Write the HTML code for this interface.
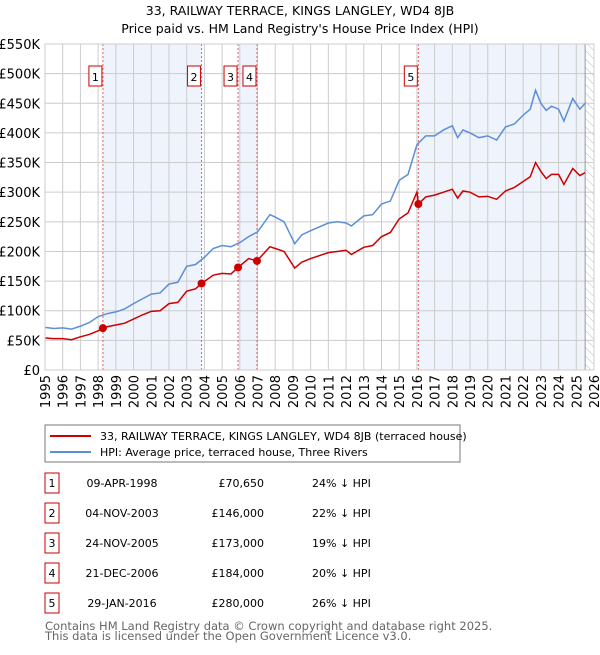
<!DOCTYPE html>
<html><head><meta charset="utf-8"><style>
body{margin:0;background:#fff;font-family:"Liberation Sans","DejaVu Sans",sans-serif;}
svg text{font-family:"DejaVu Sans","Liberation Sans",sans-serif;}
</style></head><body>
<svg id="c" width="600" height="650" xmlns="http://www.w3.org/2000/svg">
<defs><pattern id="hatch" width="6" height="6" patternUnits="userSpaceOnUse" patternTransform="rotate(-45)"><line x1="0" y1="0" x2="0" y2="6" stroke="#bbb" stroke-width="1"/></pattern></defs>
<text x="300" y="15" text-anchor="middle" font-size="12.5">33, RAILWAY TERRACE, KINGS LANGLEY, WD4 8JB</text>
<text x="300" y="33" text-anchor="middle" font-size="12.5">Price paid vs. HM Land Registry's House Price Index (HPI)</text>
<g id="plot"></g>
<rect x="45" y="425" width="415" height="37" fill="#fff" stroke="#777"/>
<line x1="50" y1="436" x2="91" y2="436" stroke="#cc0000" stroke-width="2"/>
<text x="100" y="440" font-size="11">33, RAILWAY TERRACE, KINGS LANGLEY, WD4 8JB (terraced house)</text>
<line x1="50" y1="452" x2="91" y2="452" stroke="#5b8fd6" stroke-width="2"/>
<text x="100" y="456" font-size="11">HPI: Average price, terraced house, Three Rivers</text>
<g id="table"></g>
<text x="45" y="630" font-size="11.5" fill="#666">Contains HM Land Registry data © Crown copyright and database right 2025.</text>
<text x="45" y="640" font-size="11.5" fill="#666">This data is licensed under the Open Government Licence v3.0.</text>
</svg>
<script>
const hpiYears=[1995,1995.5,1996,1996.5,1997,1997.5,1998,1998.5,1999,1999.5,2000,2000.5,2001,2001.5,2002,2002.5,2003,2003.5,2004,2004.5,2005,2005.5,2006,2006.5,2007,2007.7,2008,2008.5,2009.1,2009.5,2010,2011,2011.5,2012,2012.3,2013,2013.5,2014,2014.5,2015,2015.5,2016,2016.5,2017,2017.5,2018,2018.3,2018.6,2019,2019.5,2020,2020.5,2021,2021.5,2022,2022.4,2022.7,2023,2023.3,2023.6,2024,2024.3,2024.8,2025.2,2025.5];
const hpiValues=[72,70,71,69,74,80,90,95,98,103,112,120,128,130,145,148,175,178,190,205,210,208,215,225,233,262,258,250,213,228,235,248,250,248,243,260,262,280,285,320,330,380,395,395,405,412,392,405,400,392,395,388,410,415,430,440,472,450,438,445,440,420,458,440,450];
const ppYears=[1995,1995.5,1996,1996.5,1997,1997.5,1998,1998.27,1998.5,1999,1999.5,2000,2000.5,2001,2001.5,2002,2002.5,2003,2003.5,2003.84,2004.5,2005,2005.5,2005.9,2006.5,2006.97,2007.7,2008,2008.5,2009.1,2009.5,2010,2011,2011.5,2012,2012.3,2013,2013.5,2014,2014.5,2015,2015.5,2016,2016.08,2016.5,2017,2017.5,2018,2018.3,2018.6,2019,2019.5,2020,2020.5,2021,2021.5,2022,2022.4,2022.7,2023,2023.3,2023.6,2024,2024.3,2024.8,2025.2,2025.5];
const ppValues=[54,53,53,51,56,60,66,70.65,73,76,79,86,93,99,100,112,114,133,137,146,160,163,162,173,188,184,208,205,200,172,182,188,198,200,202,195,207,210,225,232,255,265,300,280,292,295,300,305,290,302,300,292,293,288,302,308,318,326,350,335,323,330,330,313,340,328,333];
const saleLabels=["1","2","3","4","5"];
const saleYears=[1998.27,2003.84,2005.9,2006.97,2016.08];
const saleValues=[70.65,146,173,184,280];
const saleDates=["09-APR-1998","04-NOV-2003","24-NOV-2005","21-DEC-2006","29-JAN-2016"];
const salePrices=["£70,650","£146,000","£173,000","£184,000","£280,000"];
const salePcts=["24% ↓ HPI","22% ↓ HPI","19% ↓ HPI","20% ↓ HPI","26% ↓ HPI"];
const yTicks=[0,50,100,150,200,250,300,350,400,450,500,550];
const yTickLabels=["£0","£50K","£100K","£150K","£200K","£250K","£300K","£350K","£400K","£450K","£500K","£550K"];
const xTicks=[1995,1996,1997,1998,1999,2000,2001,2002,2003,2004,2005,2006,2007,2008,2009,2010,2011,2012,2013,2014,2015,2016,2017,2018,2019,2020,2021,2022,2023,2024,2025,2026];

const L=45,R=594,T=44,B=370,X0=1995,X1=2026,Y1=550;
const sx=v=>L+(v-X0)/(X1-X0)*(R-L);
const sy=v=>B-v/Y1*(B-T);
const NS="http://www.w3.org/2000/svg";
const g=document.getElementById('plot');
function mk(tag,at,parent){const e=document.createElementNS(NS,tag);for(const k in at)e.setAttribute(k,at[k]);(parent||g).appendChild(e);return e;}

const bands=[[0,1],[2,3]];
bands.forEach(([a,b])=>{
  const r=mk('rect',{x:sx(saleYears[a]),y:T,width:sx(saleYears[b])-sx(saleYears[a]),height:B-T,fill:'#eef3fc'});
  
  
});
const lastBand=mk('rect',{x:sx(saleYears[4]),y:T,width:sx(2025.5)-sx(saleYears[4]),height:B-T,fill:'#eef3fc'});


const hatch=mk('rect',{x:sx(2025.5),y:T,width:R-sx(2025.5),height:B-T,fill:'url(#hatch)'});



yTicks.forEach((t,i)=>{
  const l=mk('line',{x1:L,x2:R,y1:sy(t),y2:sy(t),stroke:'#ccc','stroke-width':1});
  
  
  const tx=mk('text',{x:L-5,y:sy(t)+5,'text-anchor':'end','font-size':13});
  tx.textContent=yTickLabels[i];
  
  
});
xTicks.forEach(t=>{
  const l=mk('line',{x1:sx(t),x2:sx(t),y1:T,y2:B,stroke:'#ccc','stroke-width':1});
  
  
  const tx=mk('text',{x:0,y:0,'text-anchor':'end','font-size':13,transform:`translate(${sx(t)+5},${B+5}) rotate(-90)`});
  tx.textContent=t;
  
  
});
const ed=mk('line',{x1:sx(2025.5),x2:sx(2025.5),y1:T,y2:B,stroke:'#999','stroke-width':1});



saleYears.forEach((y,i)=>{
  const l=mk('line',{x1:sx(y),x2:sx(y),y1:T,y2:B,stroke:'#e06060','stroke-width':1,'stroke-dasharray':'2,2'});
  
  
  const bx=mk('rect',{x:sx(y)-14,y:66,width:13,height:20,fill:'#fff',stroke:'#cc0000'});
  
  
  const tx=mk('text',{x:sx(y)-7.5,y:81,'text-anchor':'middle','font-size':11});
  tx.textContent=saleLabels[i];
  
  
});

const hp=mk('polyline',{points:hpiYears.map((y,i)=>sx(y)+','+sy(hpiValues[i])).join(' '),fill:'none',stroke:'#5b8fd6','stroke-width':1.5});


const pp=mk('polyline',{points:ppYears.map((y,i)=>sx(y)+','+sy(ppValues[i])).join(' '),fill:'none',stroke:'#cc0000','stroke-width':1.5});


saleYears.forEach((y,i)=>{
  const c=mk('circle',{cx:sx(y),cy:sy(saleValues[i]),r:4,fill:'#cc0000'});
  
  
});
const fr=mk('rect',{x:L,y:T,width:R-L,height:B-T,fill:'none',stroke:'#ccc'});



const tg=document.getElementById('table');
saleLabels.forEach((s,i)=>{
  const y=473+i*30;
  const b=mk('rect',{x:45,y:y,width:14,height:20,fill:'#fff',stroke:'#cc0000'},tg);
  
  
  const t0=mk('text',{x:52,y:y+14,'text-anchor':'middle','font-size':11},tg);t0.textContent=s;
  
  
  const t1=mk('text',{x:122,y:y+14,'text-anchor':'middle','font-size':11},tg);t1.textContent=saleDates[i];
  
  
  const t2=mk('text',{x:264,y:y+14,'text-anchor':'end','font-size':11},tg);t2.textContent=salePrices[i];
  
  
  const t3=mk('text',{x:312,y:y+14,'font-size':11},tg);t3.textContent=salePcts[i];
  
  
});
</script>
</body></html>
